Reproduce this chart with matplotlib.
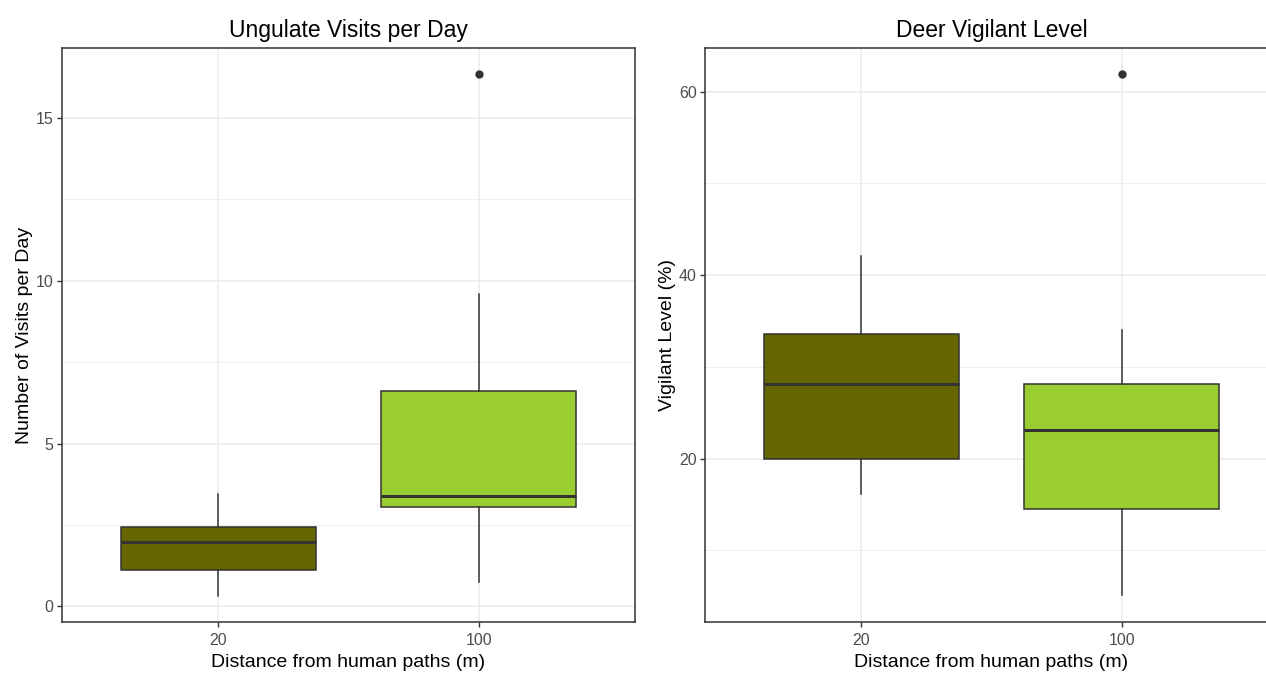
import matplotlib.pyplot as plt
from matplotlib.ticker import MultipleLocator

plt.rcParams['font.family'] = ['Liberation Sans', 'DejaVu Sans']

distances = ['20', '100']
box_colors = ['#666600', '#9ACD32']

# five-number summaries (low whisker, q1, median, q3, high whisker) and outliers
visits_low = [0.33, 0.76]
visits_q1 = [1.13, 3.05]
visits_med = [1.97, 3.38]
visits_q3 = [2.44, 6.60]
visits_high = [3.46, 9.58]
visits_out = [[], [16.35]]

vigil_low = [16.1, 5.1]
vigil_q1 = [20.0, 14.5]
vigil_med = [28.15, 23.1]
vigil_q3 = [33.55, 28.1]
vigil_high = [42.1, 34.0]
vigil_out = [[], [61.9]]


def make_stats(low, q1, med, q3, high, out):
    stats = []
    for i in range(len(distances)):
        stats.append(dict(whislo=low[i], q1=q1[i], med=med[i], q3=q3[i],
                          whishi=high[i], fliers=out[i], label=distances[i]))
    return stats


def draw_panel(ax, stats, title, ylabel, major, minor):
    bp = ax.bxp(stats, positions=[1, 2], widths=0.75, patch_artist=True,
                showcaps=False,
                boxprops=dict(edgecolor='#333333', linewidth=1.1),
                medianprops=dict(color='#333333', linewidth=2.2),
                whiskerprops=dict(color='#333333', linewidth=1.1),
                flierprops=dict(marker='o', markerfacecolor='#333333',
                                markeredgecolor='#333333', markersize=5))
    for patch, c in zip(bp['boxes'], box_colors):
        patch.set_facecolor(c)
        patch.set_zorder(3)
    for key in ['medians', 'whiskers', 'fliers']:
        for art in bp[key]:
            art.set_zorder(4)
    ax.set_xlim(0.4, 2.6)
    ax.yaxis.set_major_locator(MultipleLocator(major))
    ax.yaxis.set_minor_locator(MultipleLocator(minor))
    ax.grid(True, which='major', color='#ebebeb', linewidth=1.1, zorder=0)
    ax.grid(True, which='minor', axis='y', color='#ebebeb', linewidth=0.6, zorder=0)
    ax.set_axisbelow(True)
    for s in ax.spines.values():
        s.set_color('#333333')
        s.set_linewidth(1.1)
    ax.tick_params(which='major', length=3.5, color='#333333', labelcolor='#4d4d4d',
                   labelsize=11.5, width=1, pad=2.5)
    ax.tick_params(axis='x', which='major', pad=4.5)
    ax.tick_params(which='minor', length=0)
    ax.set_title(title, fontsize=16.5, pad=8)
    ax.set_xlabel('Distance from human paths (m)', fontsize=14, labelpad=4.5)
    ax.set_ylabel(ylabel, fontsize=14, labelpad=2)


fig = plt.figure(figsize=(12.66, 6.73), dpi=100)
ax1 = fig.add_axes([62 / 1266, 51 / 673, 573 / 1266, 574 / 673])
ax2 = fig.add_axes([705 / 1266, 51 / 673, 573 / 1266, 574 / 673])

draw_panel(ax1, make_stats(visits_low, visits_q1, visits_med, visits_q3, visits_high, visits_out),
           'Ungulate Visits per Day', 'Number of Visits per Day', 5, 2.5)
ax1.set_ylim(-0.48, 17.15)

draw_panel(ax2, make_stats(vigil_low, vigil_q1, vigil_med, vigil_q3, vigil_high, vigil_out),
           'Deer Vigilant Level', 'Vigilant Level (%)', 20, 10)
ax2.set_ylim(2.2, 64.75)

fig.savefig('out.png', dpi=100)
